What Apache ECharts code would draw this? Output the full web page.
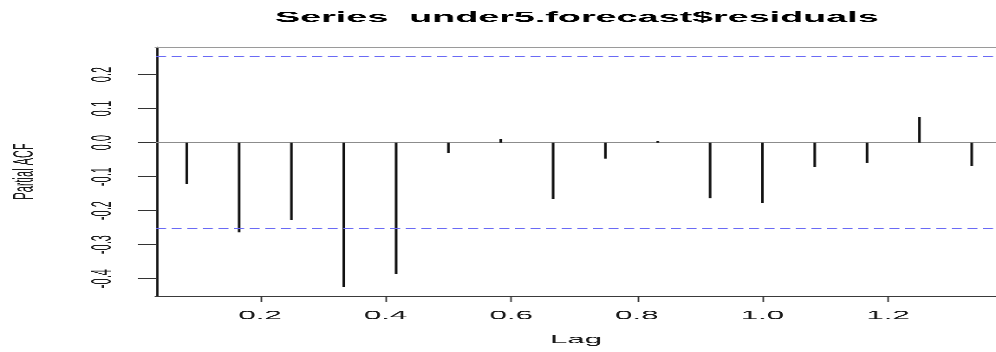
<!DOCTYPE html>
<html>
<head>
<meta charset="utf-8">
<script src="https://cdn.jsdelivr.net/npm/echarts@6/dist/echarts.min.js"></script>
<style>
html, body { margin: 0; padding: 0; background: #ffffff; overflow: hidden; }
#wrap { position: relative; width: 996px; height: 352px; overflow: hidden; background: #fff; }
#chart { position: absolute; left: 0; top: 0; width: 383px; height: 352px; transform-origin: 0 0; }
</style>
</head>
<body>
<div id="wrap"><div id="chart"></div></div>
<script>
// ---- data ----
const titleText = 'Series  under5.forecast$residuals';
const xName = 'Lag';
const yName = 'Partial ACF';
const lags = [0.0833, 0.1667, 0.25, 0.3333, 0.4167, 0.5, 0.5833, 0.6667,
              0.75, 0.8333, 0.9167, 1.0, 1.0833, 1.1667, 1.25, 1.3333];
const pacf = [-0.122, -0.264, -0.228, -0.424, -0.386, -0.030, 0.011, -0.166,
              -0.047, 0.004, -0.164, -0.178, -0.071, -0.059, 0.076, -0.069];
const ciBound = 0.2535;
const xTicks = [0.2, 0.4, 0.6, 0.8, 1.0, 1.2];
const yTicks = [-0.4, -0.3, -0.2, -0.1, 0.0, 0.1, 0.2];
const xLim = [0.0344, 1.372];
const yLim = [-0.451, 0.281];

// The reference is an R plot stretched horizontally; reproduce that stretch.
const STRETCH = 996 / 383;
const dom = document.getElementById('chart');
dom.style.transform = 'scaleX(' + STRETCH + ')';

const chart = echarts.init(dom, null, { renderer: 'canvas', devicePixelRatio: 3 });

const FONT = 'Liberation Sans, Arial, sans-serif';

function hLine(name, y, color, type, z) {
  return {
    type: 'line',
    name: name,
    xAxisIndex: 0,
    yAxisIndex: 0,
    data: [[xLim[0], y], [xLim[1], y]],
    symbol: 'none',
    showSymbol: false,
    silent: true,
    z: z,
    color: color,
    itemStyle: { color: color },
    lineStyle: { color: color, type: type, width: 1 },
    emphasis: { disabled: true }
  };
}

const option = {
  animation: false,
  backgroundColor: '#ffffff',
  title: {
    text: titleText,
    left: 221.8,
    top: 10.5,
    padding: 0,
    textAlign: 'center',
    textStyle: { fontFamily: FONT, fontSize: 14.5, fontWeight: 'bold', color: '#000000' }
  },
  grid: { left: 60, right: 0, top: 47, bottom: 56, containLabel: false, outerBoundsMode: 'none' },
  xAxis: [
    {
      type: 'value',
      position: 'bottom',
      min: xLim[0],
      max: xLim[1],
      name: xName,
      nameLocation: 'middle',
      nameGap: 38,
      nameTextStyle: { fontFamily: FONT, fontSize: 12, color: '#1a1a1a' },
      axisLine: { show: true, onZero: false, lineStyle: { color: '#3a3a3a', width: 1 } },
      axisTick: { show: true, customValues: xTicks, length: 6, lineStyle: { color: '#333333', width: 0.6 } },
      axisLabel: {
        show: true, customValues: xTicks, margin: 14,
        formatter: v => v.toFixed(1),
        fontFamily: FONT, fontSize: 12, color: '#1a1a1a'
      },
      splitLine: { show: false }
    },
    {
      type: 'value',
      position: 'top',
      min: xLim[0],
      max: xLim[1],
      axisLine: { show: true, onZero: false, lineStyle: { color: '#9a9a9a', width: 1 } },
      axisTick: { show: false },
      axisLabel: { show: false },
      splitLine: { show: false }
    }
  ],
  yAxis: {
    type: 'value',
    min: yLim[0],
    max: yLim[1],
    name: yName,
    nameLocation: 'middle',
    nameRotate: 90,
    nameGap: 45,
    nameTextStyle: { fontFamily: FONT, fontSize: 11, color: '#1a1a1a' },
    axisLine: { show: true, onZero: false, lineStyle: { color: '#111111', width: 0.9 } },
    axisTick: { show: true, customValues: yTicks, length: 7, lineStyle: { color: '#333333', width: 1 } },
    axisLabel: {
      show: true, customValues: yTicks, rotate: 90, margin: 15,
      formatter: v => v.toFixed(1),
      fontFamily: FONT, fontSize: 11, color: '#1a1a1a'
    },
    splitLine: { show: false }
  },
  series: [
    hLine('zero', 0, '#8c8c8c', 'solid', 1),
    hLine('ci upper', ciBound, '#6a6af5', [3.85, 2.15], 3),
    hLine('ci lower', -ciBound, '#6a6af5', [3.85, 2.15], 3),
    {
      type: 'bar',
      name: 'pacf',
      xAxisIndex: 0,
      yAxisIndex: 0,
      barWidth: 0.85,
      barMinWidth: 0,
      z: 2,
      itemStyle: { color: '#111111' },
      data: lags.map((l, i) => [l, pacf[i]])
    }
  ]
};

chart.setOption(option);
</script>
</body>
</html>
